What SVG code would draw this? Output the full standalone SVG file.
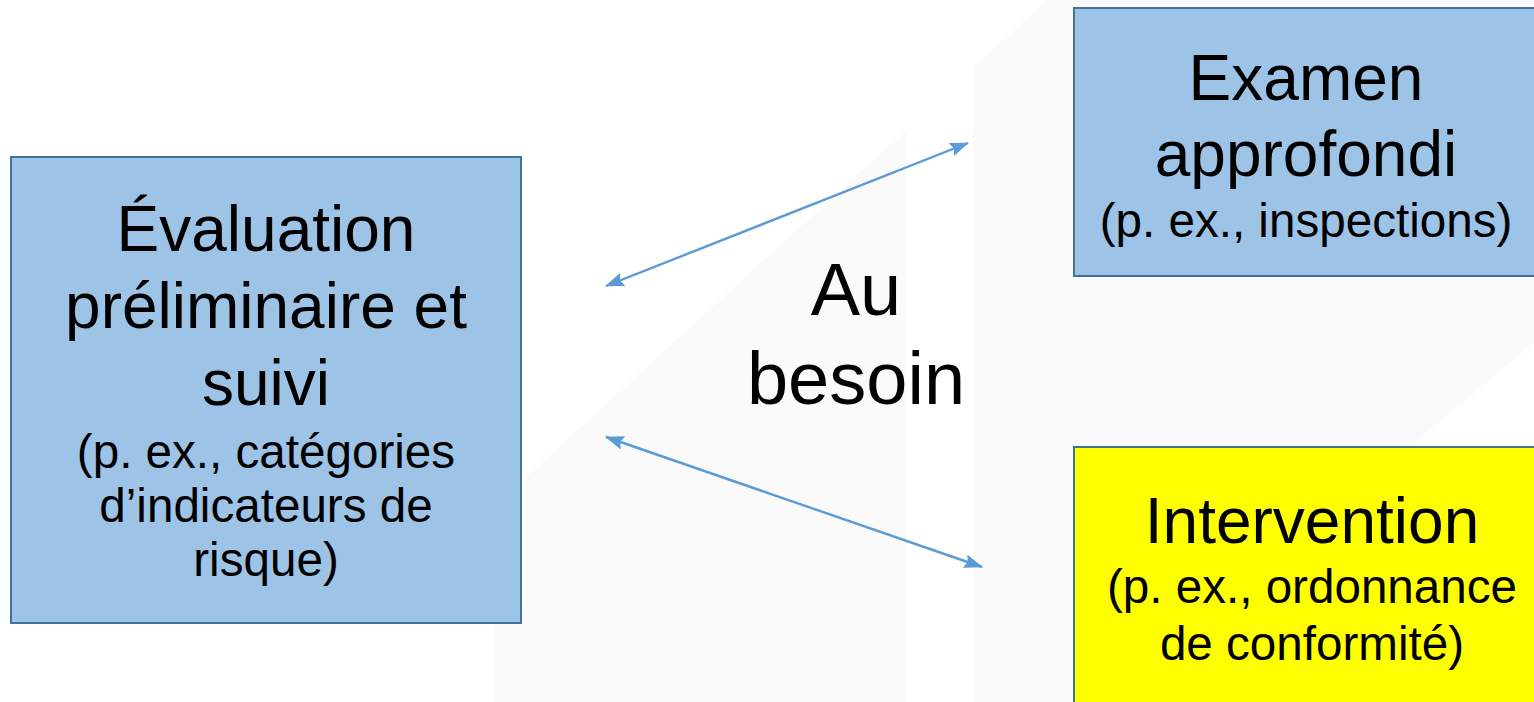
<svg xmlns="http://www.w3.org/2000/svg" width="1534" height="702" viewBox="0 0 1534 702">
  <style>
    .box { stroke: #41719c; stroke-width: 2; }
    .blue { fill: #9dc3e6; }
    .yellow { fill: #ffff00; }
    .t { font-family: "Liberation Sans", Arial, sans-serif; fill: #000; text-anchor: middle; }
    .big { font-size: 64px; }
    .small { font-size: 47.6px; }
    .mid { font-size: 74px; }
    .conn { stroke: #5b9bd5; stroke-width: 2.4; fill: none; marker-start: url(#head); marker-end: url(#head); }
    .bg { fill: #fafafa; }
  </style>
  <defs>
    <marker id="head" viewBox="0 0 19 14" refX="18" refY="7" markerWidth="19" markerHeight="14" markerUnits="userSpaceOnUse" orient="auto-start-reverse">
      <path d="M0,0 L19,7 L0,14 L3,7 Z" fill="#5b9bd5"/>
    </marker>
  </defs>

  <!-- backdrop panels -->
  <g id="backdrop">
    <rect x="0" y="0" width="1534" height="702" fill="#ffffff"/>
    <polygon class="bg" points="494,702 494,506 906,130 906,702"/>
    <polygon class="bg" points="973,702 973,67 1047,0 1534,0 1534,343 1410,447 1410,702"/>
  </g>

  <g id="connectors">
    <line class="conn" x1="606" y1="286" x2="968" y2="143"/>
    <line class="conn" x1="606" y1="437" x2="982" y2="567"/>
  </g>

  <g id="evaluation">
    <rect class="box blue" x="11" y="157" width="510" height="466"/>
    <text class="t big" x="266" y="251">Évaluation</text>
    <text class="t big" x="266" y="328">préliminaire et</text>
    <text class="t big" x="266" y="405">suivi</text>
    <text class="t small" x="266" y="468">(p. ex., catégories</text>
    <text class="t small" x="266" y="522">d’indicateurs de</text>
    <text class="t small" x="266" y="576">risque)</text>
  </g>

  <g id="label">
    <text class="t mid" x="856" y="315">Au</text>
    <text class="t mid" x="856" y="404">besoin</text>
  </g>

  <g id="examen">
    <rect class="box blue" x="1074" y="8" width="470" height="268"/>
    <text class="t big" x="1306" y="100">Examen</text>
    <text class="t big" x="1306" y="176">approfondi</text>
    <text class="t small" x="1306" y="237">(p. ex., inspections)</text>
  </g>

  <g id="intervention">
    <rect class="box yellow" x="1074" y="447" width="470" height="270"/>
    <text class="t big" x="1312" y="543">Intervention</text>
    <text class="t small" x="1312" y="603">(p. ex., ordonnance</text>
    <text class="t small" x="1312" y="660">de conformité)</text>
  </g>
</svg>
